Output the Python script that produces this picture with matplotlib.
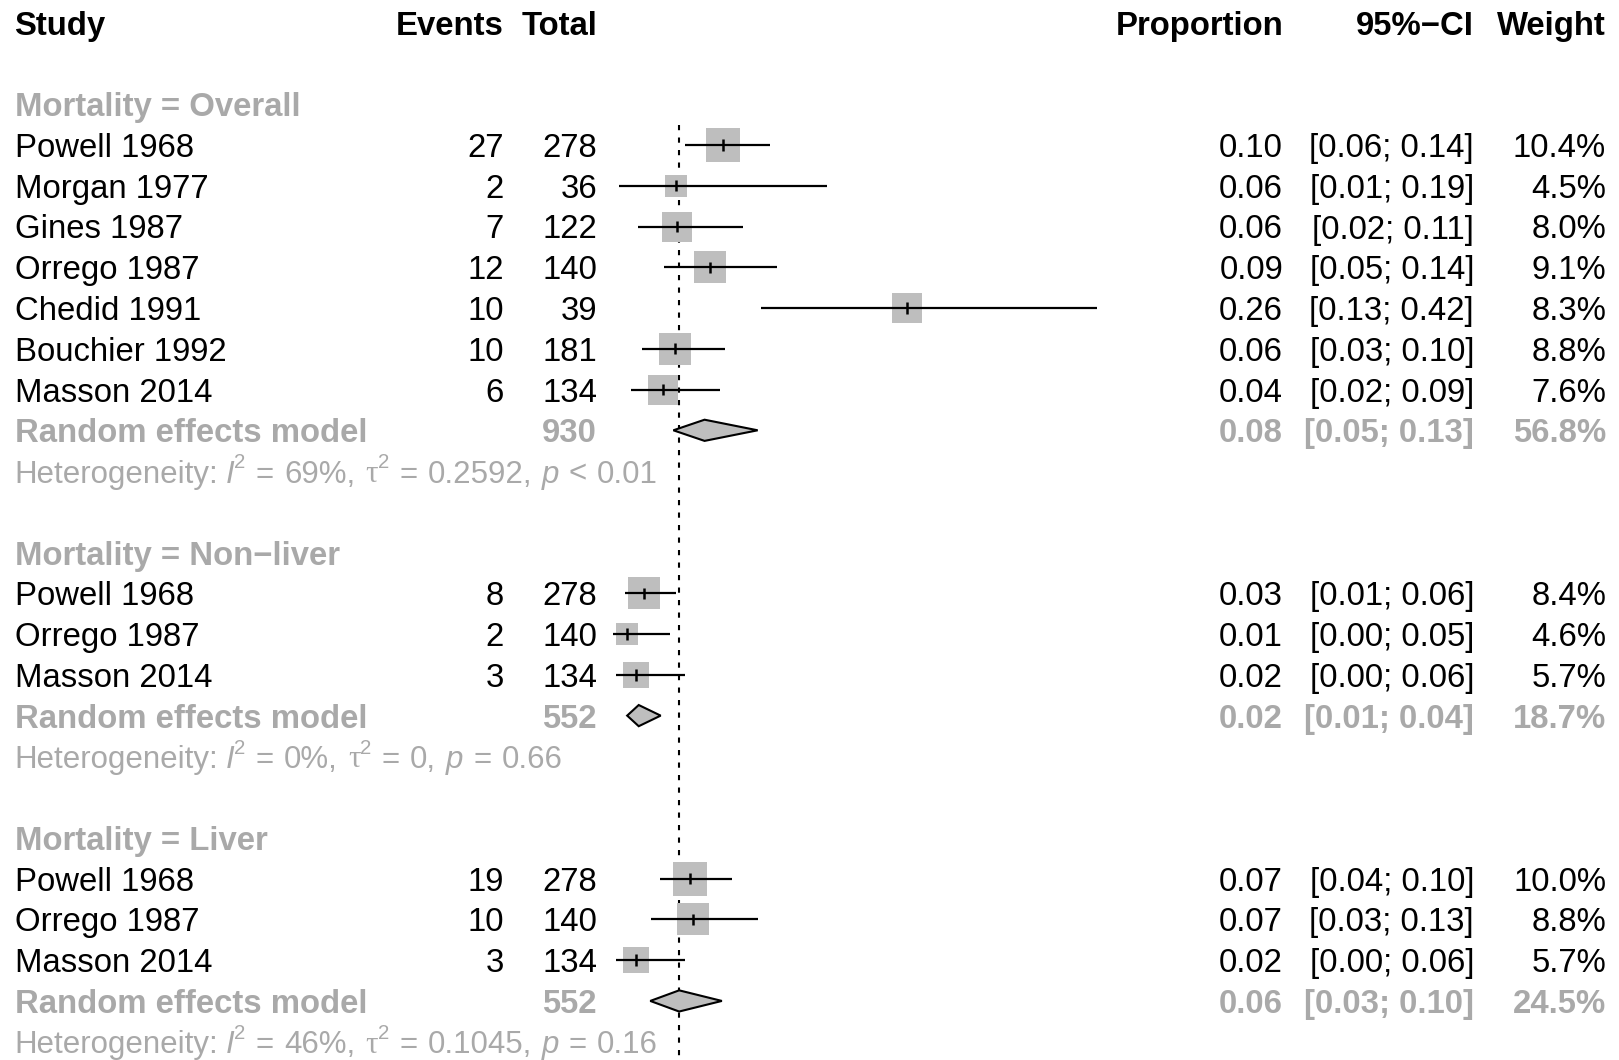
import numpy as np
import matplotlib
matplotlib.use('Agg')
import matplotlib.pyplot as plt
from matplotlib import font_manager, ft2font
from matplotlib.patches import Polygon
from matplotlib.transforms import offset_copy

plt.rcParams['font.family'] = ['Liberation Sans', 'DejaVu Sans']

# ---- data ----
groups = ['Overall', 'Non\u2212liver', 'Liver']
study = ['Powell 1968', 'Morgan 1977', 'Gines 1987', 'Orrego 1987', 'Chedid 1991', 'Bouchier 1992', 'Masson 2014',
         'Powell 1968', 'Orrego 1987', 'Masson 2014',
         'Powell 1968', 'Orrego 1987', 'Masson 2014']
group = [0, 0, 0, 0, 0, 0, 0, 1, 1, 1, 2, 2, 2]
events = [27, 2, 7, 12, 10, 10, 6, 8, 2, 3, 19, 10, 3]
total = [278, 36, 122, 140, 39, 181, 134, 278, 140, 134, 278, 140, 134]
prop = [0.097, 0.056, 0.057, 0.086, 0.256, 0.0552, 0.0448, 0.029, 0.014, 0.022, 0.068, 0.071, 0.022]
lower = [0.064, 0.007, 0.023, 0.046, 0.130, 0.027, 0.017, 0.012, 0.002, 0.0046, 0.042, 0.0348, 0.0046]
upper = [0.138, 0.187, 0.114, 0.144, 0.421, 0.099, 0.0948, 0.056, 0.051, 0.064, 0.1048, 0.127, 0.064]
weight = [10.4, 4.5, 8.0, 9.1, 8.3, 8.8, 7.6, 8.4, 4.6, 5.7, 10.0, 8.8, 5.7]

re_total = [930, 552, 552]
re_prop = [0.081, 0.024, 0.059]
re_lower = [0.054, 0.014, 0.034]
re_upper = [0.127, 0.043, 0.096]
re_weight = [56.8, 18.7, 24.5]

het_i2 = ['69%', '0%', '46%']
het_tau2 = ['0.2592', '0', '0.1045']
het_p_op = ['<', '=', '=']
het_p = ['0.01', '0.66', '0.16']

ref_line = 0.059

# ---- layout (pixel columns, row units) ----
W, H = 1619, 1060
row0_px, row_px = 22.7, 40.76
x_study, x_events, x_total = 14.5, 504, 597
x_prop, x_ci, x_weight = 1283, 1474, 1606
forest_left, px_per_unit, forest_max = 611, 1155, 0.45
fs = 23.7
fs_het = fs * 0.95
sup_scale = 0.65
first_gap_px = 8
extra_gap_px = 1.3
grey_txt = '#a9a9a9'
grey_box = '#bebebe'

fig = plt.figure(figsize=(W / 100, H / 100), dpi=100)
ax = fig.add_axes([0, 0, 1, 1])
ylim = ((H - row0_px) / row_px, -row0_px / row_px)
ax.set_xlim(0, W)
ax.set_ylim(*ylim)
ax.axis('off')

fax = fig.add_axes([forest_left / W, 0, forest_max * px_per_unit / W, 1])
fax.set_xlim(0, forest_max)
fax.set_ylim(*ylim)
fax.axis('off')

sup_shift = offset_copy(ax.transData, fig=fig, x=0,
                        y=fs_het * (0.45 - 0.3625 * (1 - sup_scale)), units='points')


def advance(s, fontprops, size):
    # glyph advance widths in pixels (axes x unit is one pixel)
    f = ft2font.FT2Font(font_manager.findfont(fontprops))
    f.set_size(size, 100)
    return sum(f.load_char(ord(c)).linearHoriAdvance for c in s) / 65536


def txt(x, r, s, ha='left', color='black', bold=False):
    ax.text(x, r, s, ha=ha, va='center_baseline', fontsize=fs, color=color,
            fontweight='bold' if bold else 'normal')


def het_line(r, pieces):
    sans = font_manager.FontProperties(family='Liberation Sans')
    gap_px = advance(' ', sans, fs_het) + extra_gap_px
    x = x_study
    for s, kind in pieces:
        if kind == 'gap':
            x += gap_px
            continue
        if kind == 'gap1':
            x += first_gap_px
            continue
        size = fs_het
        tr = ax.transData
        if kind == 'it':
            fp = font_manager.FontProperties(family='Liberation Sans', style='italic')
        elif kind == 'greek':
            fp = font_manager.FontProperties(family='Liberation Serif')
        else:
            fp = font_manager.FontProperties(family='Liberation Sans')
        if kind == 'sup':
            size = fs_het * sup_scale
            tr = sup_shift
        adv = advance(s, fp, size)
        ax.text(x, r, s, va='center_baseline', ha='left', color=grey_txt,
                fontproperties=fp, fontsize=size, transform=tr)
        x += adv


# header
txt(x_study, 0, 'Study', bold=True)
txt(x_events, 0, 'Events', ha='right', bold=True)
txt(x_total, 0, 'Total', ha='right', bold=True)
txt(x_prop, 0, 'Proportion', ha='right', bold=True)
txt(x_ci, 0, '95%\u2212CI', ha='right', bold=True)
txt(x_weight, 0, 'Weight', ha='right', bold=True)

r = 2
first_row = r
for g, gname in enumerate(groups):
    txt(x_study, r, f'Mortality = {gname}', color=grey_txt, bold=True)
    r += 1
    for i in [k for k in range(len(study)) if group[k] == g]:
        txt(x_study, r, study[i])
        txt(x_events, r, str(events[i]), ha='right')
        txt(x_total, r, str(total[i]), ha='right')
        txt(x_prop, r, f'{prop[i]:.2f}', ha='right')
        txt(x_ci, r, f'[{lower[i]:.2f}; {upper[i]:.2f}]', ha='right')
        txt(x_weight, r, f'{weight[i]:.1f}%', ha='right')
        side_pt = 10.7 * np.sqrt(weight[i]) * 0.72
        fax.scatter([prop[i]], [r], s=side_pt ** 2, marker='s', color=grey_box,
                    linewidths=0, zorder=2, clip_on=False)
        fax.hlines(r, lower[i], upper[i], color='black', lw=1.6, zorder=3, clip_on=False)
        fax.vlines(prop[i], r - 0.14, r + 0.14, color='black', lw=1.8, zorder=3, clip_on=False)
        r += 1
    # random effects model
    txt(x_study, r, 'Random effects model', color=grey_txt, bold=True)
    txt(x_total, r, str(re_total[g]), ha='right', color=grey_txt, bold=True)
    txt(x_prop, r, f'{re_prop[g]:.2f}', ha='right', color=grey_txt, bold=True)
    txt(x_ci, r, f'[{re_lower[g]:.2f}; {re_upper[g]:.2f}]', ha='right', color=grey_txt, bold=True)
    txt(x_weight, r, f'{re_weight[g]:.1f}%', ha='right', color=grey_txt, bold=True)
    dh = 0.26
    fax.add_patch(Polygon([(re_lower[g], r), (re_prop[g], r - dh), (re_upper[g], r), (re_prop[g], r + dh)],
                          closed=True, facecolor=grey_box, edgecolor='black', lw=1.5, zorder=3, clip_on=False))
    r += 1
    gap = ('', 'gap')
    het_line(r, [('Heterogeneity:', 'rm'), ('', 'gap1'), ('I', 'it'), ('2', 'sup'), gap,
                 ('=', 'rm'), gap, (het_i2[g] + ',', 'rm'), gap, ('\u03c4', 'greek'), ('2', 'sup'), gap,
                 ('=', 'rm'), gap, (het_tau2[g] + ',', 'rm'), gap, ('p', 'it'), gap,
                 (het_p_op[g], 'rm'), gap, (het_p[g], 'rm')])
    r += 2

fax.vlines(ref_line, first_row + 0.5, ylim[0], color='black', lw=1.5,
           linestyles=(0, (2.5, 3.5)), zorder=1)

fig.savefig('out.png', dpi=100)
